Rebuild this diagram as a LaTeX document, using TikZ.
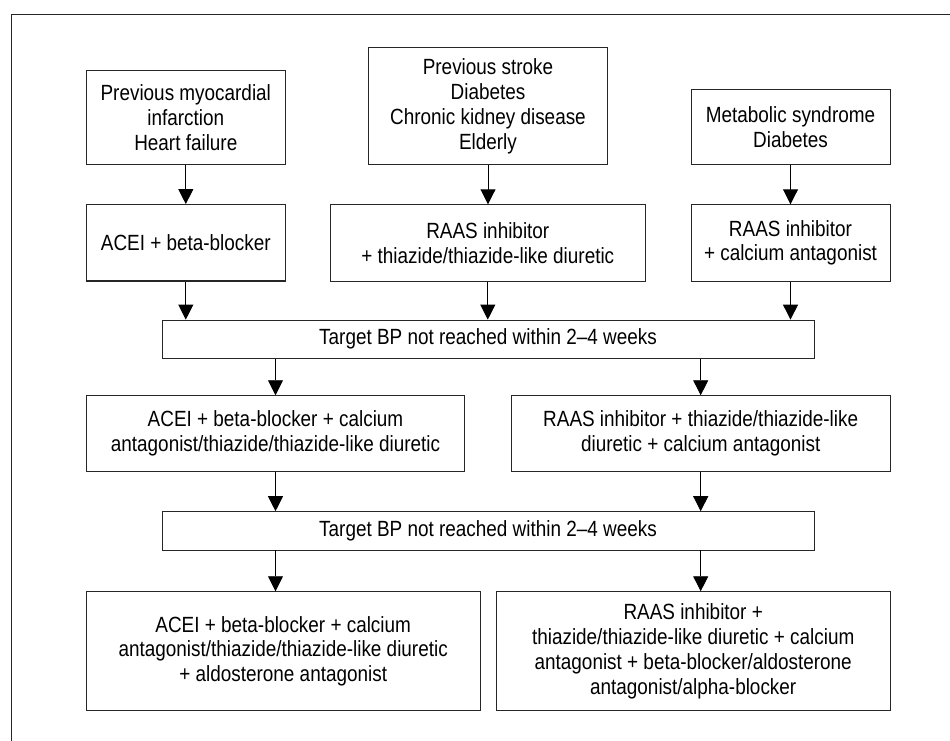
\documentclass[tikz,border=0pt]{standalone}
\usepackage{fontspec}
\setmainfont[FakeStretch=0.86]{Liberation Sans}
\usetikzlibrary{arrows.meta}
\begin{document}
\begin{tikzpicture}[x=1pt,y=-1pt,
  box/.style={draw=black!85,line width=0.9pt,inner sep=0pt,align=center,
    font=\fontsize{22}{24.8}\selectfont},
  conn/.style={line width=0.9pt,-{Triangle[width=15pt,length=15pt]}},
  frame/.style={line width=0.9pt,draw=black!85}]
\useasboundingbox (0,0) rectangle (950,740);
\draw[frame] (11,745) -- (11,14.7) -- (955,14.7);
\node[box,minimum width=199pt,minimum height=94.4pt] (b1) at (185.8,117.5)
  {Previous myocardial\\infarction\\Heart failure};
\node[box,minimum width=239.3pt,minimum height=117pt] (b2) at (488,106.2)
  {Previous stroke\\Diabetes\\Chronic kidney disease\\Elderly};
\node[box,minimum width=199pt,minimum height=75.4pt] (b3) at (790.5,127)
  {Metabolic syndrome\\Diabetes};
\node[box,line width=1.4pt,minimum width=199pt,minimum height=76.3pt] (b4) at (185.8,242.9)
  {ACEI + beta-blocker};
\node[box,minimum width=315.5pt,minimum height=76.3pt] (b5) at (487.8,242.9)
  {RAAS inhibitor\\+ thiazide/thiazide-like diuretic};
\node[box,minimum width=199pt,minimum height=76.3pt] (b6) at (790.5,242.9)
  {RAAS inhibitor\\+ calcium antagonist};
\node[box,minimum width=652pt,minimum height=38.3pt] (t1) at (488,339.2)
  {Target BP not reached within 2–4 weeks};
\node[box,minimum width=378.4pt,minimum height=76pt] (b7) at (275.5,433.7)
  {ACEI + beta-blocker + calcium\\antagonist/thiazide/thiazide-like diuretic};
\node[box,minimum width=378.7pt,minimum height=76pt] (b8) at (700.7,433.7)
  {RAAS inhibitor + thiazide/thiazide-like\\diuretic + calcium antagonist};
\node[box,minimum width=652pt,minimum height=38.3pt] (t2) at (488,530.8)
  {Target BP not reached within 2–4 weeks};
\node[box,minimum width=393.7pt,minimum height=119pt] (b9) at (283.2,651.2)
  {ACEI + beta-blocker + calcium\\antagonist/thiazide/thiazide-like diuretic\\+ aldosterone antagonist};
\node[box,minimum width=393.7pt,minimum height=119pt] (b10) at (693.2,651.2)
  {RAAS inhibitor +\\thiazide/thiazide-like diuretic + calcium\\antagonist + beta-blocker/aldosterone\\antagonist/alpha-blocker};
\draw[conn] (b1) -- (b4);
\draw[conn] (b2) -- (b2 |- b5.north);
\draw[conn] (b3) -- (b6);
\draw[conn] (b4) -- (b4 |- t1.north);
\draw[conn] (b5) -- (b5 |- t1.north);
\draw[conn] (b6) -- (b6 |- t1.north);
\draw[conn] (t1.south -| b7) -- (b7);
\draw[conn] (t1.south -| b8) -- (b8);
\draw[conn] (b7) -- (b7 |- t2.north);
\draw[conn] (b8) -- (b8 |- t2.north);
\draw[conn] (t2.south -| b7) -- (b7 |- b9.north);
\draw[conn] (t2.south -| b8) -- (b8 |- b10.north);
\end{tikzpicture}
\end{document}
